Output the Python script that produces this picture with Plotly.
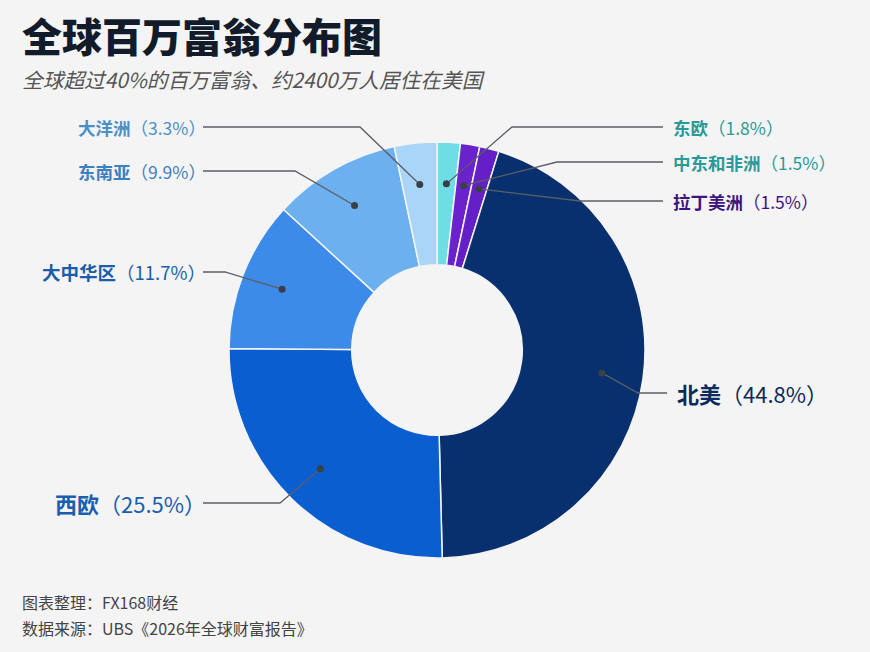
import math
import plotly.graph_objects as go

# ---- data ----
regions = ["东欧", "中东和非洲", "拉丁美洲", "北美", "西欧", "大中华区", "东南亚", "大洋洲"]
shares = [1.8, 1.5, 1.5, 44.8, 25.5, 11.7, 9.9, 3.3]

title = "全球百万富翁分布图"
subtitle = "全球超过40%的百万富翁、约2400万人居住在美国"
footer1 = "图表整理：FX168财经"
footer2 = "数据来源：UBS《2026年全球财富报告》"

# ---- styles / layout ----
slice_colors = ["#6fdde6", "#6a22cc", "#6420c6", "#08306f", "#0b5ecf", "#3d8be8", "#6cb0ef", "#a9d6f8"]
label_colors = ["#2a9a98", "#2a9a98", "#3f1580", "#0d2a5e", "#1a5eb0", "#1c5caa", "#3c80c2", "#4a8fc6"]
label_sizes = [17.5, 17.5, 17.5, 22, 22, 18.5, 17.5, 17.5]
# label layout: side, label y, elbow x, line end x
label_side = ["R", "R", "R", "R", "L", "L", "L", "L"]
label_y = [127, 162, 201, 393, 503, 272, 171, 127]
elbow_x = [512, 557, 580, 638, 280, 225, 295, 360]
line_end_x = [663, 663, 663, 667, 203, 203, 203, 203]

W, H = 870, 652
cx, cy, R = 437, 350, 208
hole = 0.41
bg = "#f4f4f4"
font_family = "Noto Sans CJK SC, Noto Sans, sans-serif"

fig = go.Figure()
fig.add_trace(go.Pie(
    labels=regions, values=shares, sort=False, direction="clockwise", rotation=0,
    hole=hole, textinfo="none", hoverinfo="label+percent",
    marker=dict(colors=slice_colors, line=dict(color="#f4f4f4", width=1.5)),
    domain=dict(x=[(cx - R) / W, (cx + R) / W], y=[1 - (cy + R) / H, 1 - (cy - R) / H]),
    showlegend=False,
))
# invisible trace so the cartesian axes exist for placing shapes in pixel units
fig.add_trace(go.Scatter(x=[0, W], y=[0, H], mode="markers",
                         marker=dict(opacity=0), hoverinfo="skip", showlegend=False))

total = sum(shares)
cum = 0.0
for i, v in enumerate(shares):
    mid = (cum + v / 2) / total * 2 * math.pi
    cum += v
    r = 0.8 * R
    dx = cx + r * math.sin(mid)
    dy = cy - r * math.cos(mid)
    fig.add_shape(type="path", xref="x", yref="y", layer="above",
                  path=f"M {dx:.2f} {dy:.2f} L {elbow_x[i]} {label_y[i]} L {line_end_x[i]} {label_y[i]}",
                  line=dict(color="#5a5e66", width=1.3))
    rr = 3.5
    fig.add_shape(type="circle", xref="x", yref="y", layer="above",
                  x0=dx - rr, x1=dx + rr, y0=dy - rr, y1=dy + rr,
                  fillcolor="#3a3f48", line=dict(width=0))
    if label_side[i] == "R":
        ax_, anchor = line_end_x[i] + 8, "left"
    else:
        ax_, anchor = line_end_x[i] + 5, "right"
    fig.add_annotation(
        x=ax_, y=label_y[i], xref="x", yref="y", xanchor=anchor, yanchor="middle",
        text=f"<b>{regions[i]}</b>（{v}%）", showarrow=False,
        font=dict(family=font_family, size=label_sizes[i], color=label_colors[i]))

fig.add_annotation(x=20, y=35, xref="x", yref="y", xanchor="left", yanchor="middle",
                   text=title, showarrow=False,
                   font=dict(family=font_family, size=40, color="#111b29", weight=900))
fig.add_annotation(x=20, y=79, xref="x", yref="y", xanchor="left", yanchor="middle",
                   text=f"<i>{subtitle}</i>", showarrow=False,
                   font=dict(family=font_family, size=20.7, color="#555555"))
fig.add_annotation(x=20, y=602, xref="x", yref="y", xanchor="left", yanchor="middle",
                   text=footer1, showarrow=False,
                   font=dict(family=font_family, size=16, color="#444444"))
fig.add_annotation(x=20, y=628, xref="x", yref="y", xanchor="left", yanchor="middle",
                   text=footer2, showarrow=False,
                   font=dict(family=font_family, size=16, color="#444444"))

fig.update_layout(
    width=W, height=H, margin=dict(l=0, r=0, t=0, b=0),
    paper_bgcolor=bg, plot_bgcolor="rgba(0,0,0,0)",
    xaxis=dict(range=[0, W], visible=False, fixedrange=True, domain=[0, 1]),
    yaxis=dict(range=[H, 0], visible=False, fixedrange=True, domain=[0, 1]),
)

fig.write_html("out.html")
